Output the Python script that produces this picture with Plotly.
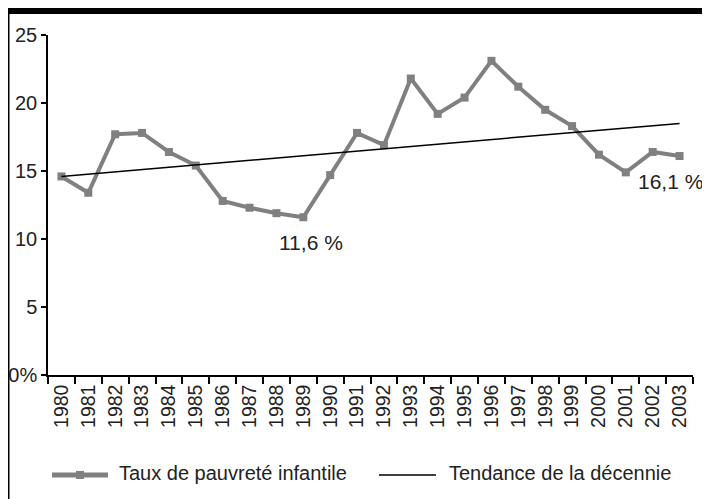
import plotly.graph_objects as go

# Données
annees = [str(a) for a in range(1980, 2004)]
taux = [14.6, 13.4, 17.7, 17.8, 16.4, 15.4, 12.8, 12.3, 11.9, 11.6,
        14.7, 17.8, 16.9, 21.8, 19.2, 20.4, 23.1, 21.2, 19.5, 18.3,
        16.2, 14.9, 16.4, 16.1]
tendance_x = ["1980", "2003"]
tendance_y = [14.6, 18.5]
y_ticks = [0, 5, 10, 15, 20, 25]
y_labels = ["0%", "5", "10", "15", "20", "25"]
noms = ["Taux de pauvreté infantile", "Tendance de la décennie"]
etiquettes = [("1989", 11.6, "11,6 %"), ("2003", 16.1, "16,1 %")]

# la page ajoute une marge de 8 px : on travaille en pixels de la référence
OFF = 8
W, H = 710 - OFF, 499 - OFF
L, R, T, B = 48 - OFF, 17, 35 - OFF, 124
PW, PH = W - L - R, H - T - B
FONT = "Liberation Sans, Arial"
GRIS = "#808080"


def px(x):
    return (x - OFF - L) / PW


def py(y):
    return (H - B - (y - OFF)) / PH


fig = go.Figure()
fig.add_trace(go.Scatter(x=annees, y=taux, mode="lines+markers", name=noms[0],
                         line=dict(color=GRIS, width=4),
                         marker=dict(symbol="square", size=8, color=GRIS),
                         showlegend=False))
fig.add_trace(go.Scatter(x=tendance_x, y=tendance_y, mode="lines", name=noms[1],
                         line=dict(color="black", width=1.5),
                         showlegend=False))

decalage = {"1989": 8, "2003": -9}
for x, y, txt in etiquettes:
    fig.add_annotation(x=annees.index(x), y=y, text=txt, showarrow=False,
                       xshift=decalage[x], yshift=-25,
                       font=dict(size=21, color="#222"))

shapes = [
    # bande noire du haut
    dict(type="rect", xref="paper", yref="paper", x0=px(0), x1=px(W + 20),
         y0=py(OFF + 6), y1=py(0), fillcolor="black", line_width=0, layer="above"),
    # bord gauche
    dict(type="line", xref="paper", yref="paper", x0=px(OFF + 0.5), x1=px(OFF + 0.5),
         y0=py(OFF + 6), y1=py(H + 20), line=dict(color="black", width=2)),
    # légende
    dict(type="line", xref="paper", yref="paper", x0=px(52), x1=px(108),
         y0=py(475), y1=py(475), line=dict(color=GRIS, width=5)),
    dict(type="rect", xref="paper", yref="paper", x0=px(76), x1=px(84),
         y0=py(479), y1=py(471), fillcolor=GRIS, line_width=0),
    dict(type="line", xref="paper", yref="paper", x0=px(379), x1=px(436),
         y0=py(475), y1=py(475), line=dict(color="black", width=1.5)),
]
fig.add_annotation(xref="paper", yref="paper", x=px(117), y=py(473), text=noms[0],
                   showarrow=False, xanchor="left", yanchor="middle",
                   font=dict(size=20, color="#222"))
fig.add_annotation(xref="paper", yref="paper", x=px(447), y=py(473), text=noms[1],
                   showarrow=False, xanchor="left", yanchor="middle",
                   font=dict(size=20, color="#222"))

fig.update_layout(
    width=W, height=H,
    margin=dict(l=L, r=R, t=T, b=B, autoexpand=False),
    paper_bgcolor="white", plot_bgcolor="white",
    font=dict(family=FONT, size=20, color="#222"),
    shapes=shapes,
)
fig.update_xaxes(type="category", range=[-0.5, 23.5], tickson="boundaries",
                 ticks="outside", ticklen=7, tickcolor="black", tickwidth=1.5,
                 showline=True, linecolor="black", linewidth=1.5,
                 showgrid=False, tickangle=-90, tickfont=dict(size=19.5),
                 automargin=False, fixedrange=True)
fig.update_yaxes(range=[0, 25], tickvals=y_ticks, ticktext=y_labels,
                 ticks="outside", ticklen=5, tickcolor="black", tickwidth=1.5,
                 showline=True, linecolor="black", linewidth=1.5,
                 showgrid=False, zeroline=False, tickfont=dict(size=20),
                 automargin=False, fixedrange=True)

fig.write_html("out.html")
